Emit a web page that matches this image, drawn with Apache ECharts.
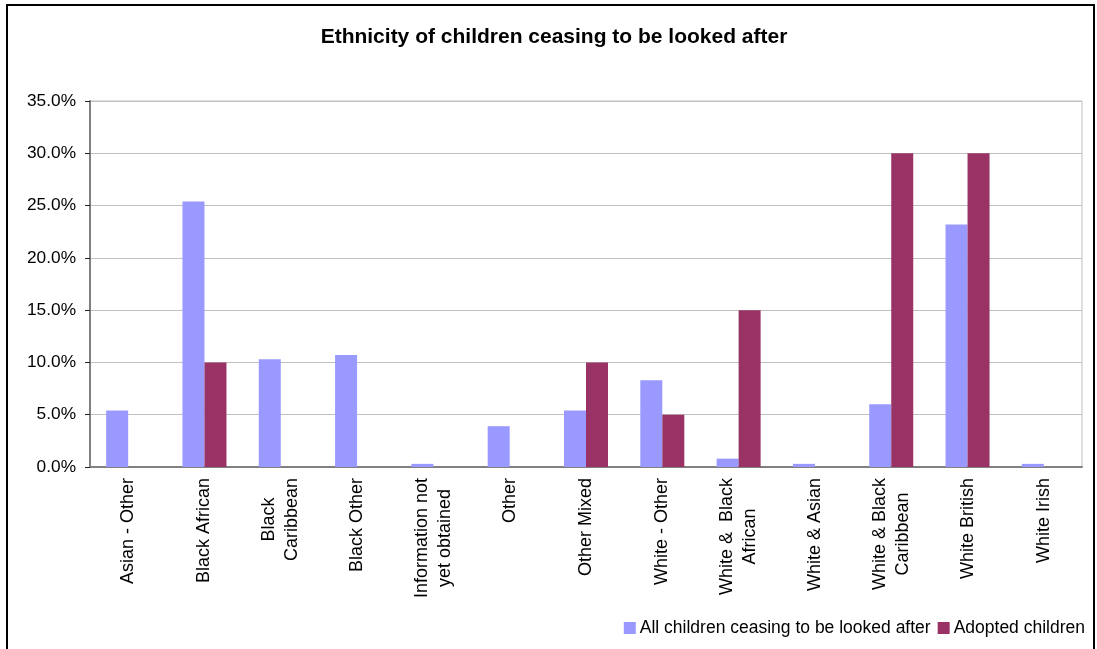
<!DOCTYPE html>
<html lang="en">

<head>
  <meta charset="UTF-8">
  <title>Ethnicity of children ceasing to be looked after</title>
  <script src="https://cdn.jsdelivr.net/npm/echarts@6/dist/echarts.min.js"></script>
  <style>
    body {
      margin: 0;
      padding: 0;
      background: #fff;
    }

    #chart {
      width: 1097px;
      height: 649px;
    }
  </style>
</head>

<body>
  <div id="chart"></div>
  <script>
    // data (percent)
    var categories = ['Asian - Other', 'Black African', 'Black\nCaribbean', 'Black Other',
      'Information not\nyet obtained', 'Other', 'Other Mixed', 'White - Other',
      'White &  Black\nAfrican', 'White & Asian', 'White & Black\nCaribbean',
      'White British', 'White Irish'];
    var allChildren = [5.4, 25.4, 10.3, 10.7, 0.3, 3.9, 5.4, 8.3, 0.8, 0.3, 6.0, 23.2, 0.3];
    var adopted = [0, 10, 0, 0, 0, 0, 10, 5, 15, 0, 30, 30, 0];
    var seriesNames = ['All children ceasing to be looked after', 'Adopted children'];

    var font = 'Liberation Sans, Arial, sans-serif';
    var chart = echarts.init(document.getElementById('chart'));

    var option = {
      animation: false,
      backgroundColor: '#fff',
      textStyle: { fontFamily: font },
      title: {
        text: 'Ethnicity of children ceasing to be looked after',
        left: 554,
        textAlign: 'center',
        top: 27,
        padding: 0,
        textStyle: { fontSize: 21, fontWeight: 'bold', color: '#000', fontFamily: font }
      },
      legend: {
        data: seriesNames,
        right: 12,
        top: 619,
        padding: 0,
        itemWidth: 12,
        itemHeight: 12,
        itemGap: 7,
        icon: 'rect',
        textStyle: { fontSize: 17.5, color: '#000', fontFamily: font, padding: [0, 0, 0, -1] }
      },
      grid: {
        left: 90,
        right: 15,
        top: 101,
        bottom: 182,
        show: true,
        borderColor: '#c0c0c0',
        borderWidth: 1,
        containLabel: false
      },
      xAxis: {
        type: 'category',
        data: categories,
        axisLine: { lineStyle: { color: '#808080', width: 2 } },
        axisTick: { length: 5, lineStyle: { color: '#222' } },
        axisLabel: {
          rotate: 90,
          interval: 0,
          margin: 11,
          color: '#000',
          fontSize: 18,
          formatter: function (v) {
            return v.split('\n').map(function (s) { return '{c|' + s + '}'; }).join('\n');
          },
          rich: {
            c: { align: 'center', fontSize: 18, lineHeight: 23, color: '#000', fontFamily: font }
          }
        }
      },
      yAxis: {
        type: 'value',
        min: 0,
        max: 35,
        interval: 5,
        axisLine: { show: true, lineStyle: { color: '#808080', width: 2 } },
        axisTick: { show: true, length: 5, lineStyle: { color: '#222' } },
        splitLine: { lineStyle: { color: '#c0c0c0', width: 1 } },
        axisLabel: {
          margin: 14,
          color: '#000',
          fontSize: 17.3,
          formatter: function (v) { return v.toFixed(1) + '%'; }
        }
      },
      series: [
        {
          name: seriesNames[0],
          type: 'bar',
          data: allChildren,
          barWidth: 22,
          barGap: '0%',
          itemStyle: { color: '#9999ff' }
        },
        {
          name: seriesNames[1],
          type: 'bar',
          data: adopted,
          barWidth: 22,
          barGap: '0%',
          itemStyle: { color: '#993366' }
        }
      ],
      graphic: [
        {
          type: 'rect',
          shape: { x: 7, y: 5, width: 1087, height: 670 },
          style: { fill: null, stroke: '#000', lineWidth: 2 },
          silent: true
        }
      ]
    };

    chart.setOption(option);
  </script>
</body>

</html>
